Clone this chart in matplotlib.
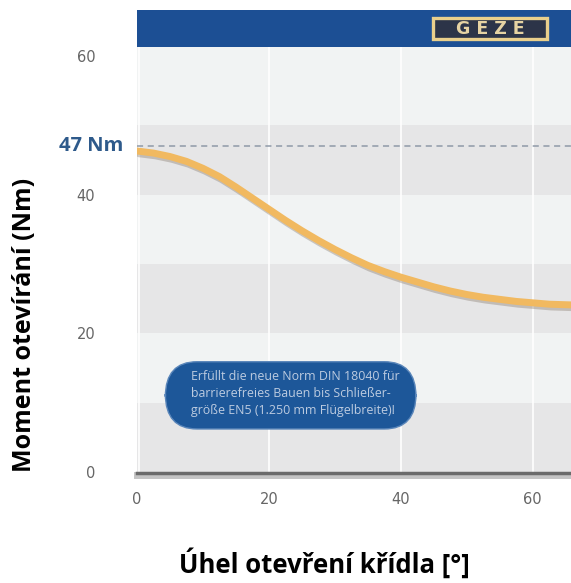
import numpy as np
import matplotlib
matplotlib.use("Agg")
import matplotlib.pyplot as plt
from matplotlib.patches import FancyBboxPatch, Rectangle

# data
uhel = [0, 2.5, 5, 7.5, 10, 12.5, 15, 17.5, 20, 22.5, 25, 27.5, 30, 32.5, 35, 37.5,
        40, 42.5, 45, 47.5, 50, 52.5, 55, 57.5, 60, 62.5, 65.8]
moment = [46.3, 46.0, 45.5, 44.8, 43.8, 42.6, 41.1, 39.5, 37.9, 36.3, 34.8, 33.4, 32.1,
          30.9, 29.8, 28.9, 28.1, 27.4, 26.7, 26.1, 25.6, 25.2, 24.9, 24.6, 24.4, 24.2, 24.1]
limit = 47
x_ticks = [0, 20, 40, 60]
y_ticks = [0, 20, 40, 60]
bands = [(0, 10), (20, 30), (40, 50)]
box_text = "Erfüllt die neue Norm DIN 18040 für\nbarrierefreies Bauen bis Schließer-\ngröße EN5 (1.250 mm Flügelbreite)!"

fig = plt.figure(figsize=(5.71, 5.83), dpi=100)
fig.patch.set_facecolor("white")

ax = fig.add_axes([137/571, 1-473/583, 1-137/571, (473-47)/583])
ax.set_xlim(0, 65.8)
ax.set_ylim(-0.15, 61.3)
ax.set_facecolor("#f1f3f3")

# gray stripes
for b0, b1 in bands:
    ax.axhspan(b0, b1, color="#e6e6e7", zorder=0, lw=0)
for xv in [0.3, 20, 40, 60]:
    ax.axvline(xv, color="white", lw=1.2, zorder=1)

# 47 Nm dashed line
ax.axhline(limit, color="#8f9aa8", lw=1.1, ls=(0, (4, 3)), zorder=2)

# curve with shadow
ax.plot(np.array(uhel) + 0.3, np.array(moment) - 0.4, color="#7d6e5e", lw=5, alpha=0.35,
        solid_capstyle="round", zorder=3)
ax.plot(uhel, moment, color="#f1b960", lw=5, solid_capstyle="round", zorder=4)

# bottom axis bar with shadow
ax.axhline(-0.5, color="#c4c4c4", lw=5, zorder=5, clip_on=False)
ax.axhline(-0.1, color="#6b6b6b", lw=2.5, zorder=6, clip_on=False)

# info box
box = FancyBboxPatch((4.3, 6.2), 38.0, 9.7, boxstyle="round,pad=0,rounding_size=4.8",
                     fc="#1d5799", ec="#5a86ba", lw=1, zorder=7, mutation_aspect=1.05)
ax.add_patch(box)
ax.text(8.2, 11.3, box_text, ha="left", va="center", fontsize=8.9, color="#bccbe0",
        linespacing=1.4, zorder=8, family="Open Sans")

ax.set_xticks(x_ticks)
ax.set_yticks(y_ticks)
ax.tick_params(axis="both", length=0, labelsize=10.5, labelcolor="#666666")
ax.tick_params(axis="y", pad=30)
ax.tick_params(axis="x", pad=14)
for s in ax.spines.values():
    s.set_visible(False)

ax.text(-2.1, limit, "47 Nm", ha="right", va="center", fontsize=14.5, fontweight="bold",
        color="#2e5a8b", family="Open Sans")

fig.text(25/571, 1-325/583, "Moment otevírání (Nm)", rotation=90, ha="center", va="center",
         fontsize=18, fontweight="bold", family="Open Sans")
fig.text(324/571, 1-563/583, "Úhel otevření křídla [°]", ha="center", va="center",
         fontsize=18.5, fontweight="bold", family="Open Sans")

# banner with logo
bn = fig.add_axes([137/571, 1-47/583, 1-137/571, 37/583])
bn.set_xlim(0, 434)
bn.set_ylim(0, 37)
bn.set_facecolor("#1c4f94")
bn.set_xticks([])
bn.set_yticks([])
for s in bn.spines.values():
    s.set_visible(False)
bn.add_patch(Rectangle((296, 8), 114, 21, fc="#2c3448", ec="#e9cf8c", lw=2.4))
bn.text(353, 18.3, "G E Z E", ha="center", va="center", fontsize=12.5, fontweight="bold",
        color="#e6d3a3", family="DejaVu Sans")

fig.savefig("out.png", dpi=100)
